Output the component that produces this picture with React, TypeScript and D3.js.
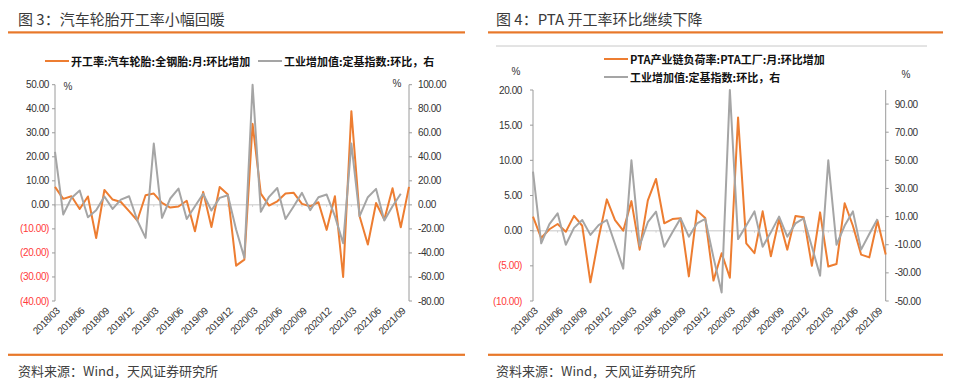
import React, { useEffect, useRef } from "react";
import * as d3 from "d3";

// x tick labels (every 3 months, 2018/03 .. 2021/09)
const tickLabels = [
  "2018/03", "2018/06", "2018/09", "2018/12", "2019/03", "2019/06", "2019/09", "2019/12",
  "2020/03", "2020/06", "2020/09", "2020/12", "2021/03", "2021/06", "2021/09",
];

// 图3: 开工率:汽车轮胎:全钢胎:月:环比增加 (left axis), 2018/03 - 2021/10
const tireRate = [
  7.5, 2.5, 3.6, -1.7, 3.5, -13.8, 6.2, 2.2, 1.2, -2.6, -6.5, 4.0, 4.7, 0.8, -1.1, -0.7,
  1.7, -11.0, 5.4, -9.2, 7.4, 4.3, -25.3, -22.8, 33.7, 4.7, -0.3, 1.5, 4.7, 5.0, 0.4, -0.6,
  1.1, -10.4, 3.6, -30.0, 39.0, -4.7, -16.5, 0.8, -6.1, 6.9, -9.3, 7.5,
];

// 工业增加值:定基指数:环比 (right axis), 2018/03 - 2021/09
const ivaLeft = [
  44, -8, 5.8, 12, -10.3, -4.4, 7, -3.3, 4.4, 7.2, -13, -27.5, 51, -10.8, 5.3, 13.6,
  -11.7, -1.1, 9.2, -4.7, 5.8, 8, -20.5, -44, 100, -5.8, 6.7, 14, -11.7, -1.1, 10, -4.4,
  6.4, 8.6, -9.4, -32, 51, -9.4, 6.4, 13.3, -13, -1.1, 9.2,
];

// 图4: PTA产业链负荷率:PTA工厂:月:环比增加 (left axis)
const ptaRate = [
  2.0, -1.05, 0.2, 0.95, -0.15, 2.1, 0.7, -7.35, -1.05, 4.45, 1.5, 0.0, 4.2, -2.7, 4.3, 7.35,
  1.05, 1.65, 1.75, -6.5, 2.85, 1.8, -7.1, -3.2, -6.7, 16.1, -1.8, -3.2, 2.75, -3.65, 1.65, -2.7,
  2.1, 1.9, -5.0, 2.6, -5.1, -4.75, 3.9, 0.7, -3.4, -3.8, 1.4, -3.4,
];

const ivaRight = [
  42, -9, 4.7, 12.3, -10, 2, 7.6, -3, 4, 7.6, -9.5, -27, 50, -10.7, 6, 13.5,
  -11.4, -1.2, 8.8, -4.3, 5.2, 8.3, -19, -44, 100, -6, 3.6, 13.7, -11.4, -1.2, 10, -4.3,
  5.2, 8.8, -11.4, -32, 50, -10, 3.6, 13.7, -13.5, -2.4, 8.3,
];

const ORANGE = "#ED7D31";
const GRAY = "#A5A5A5";
const BRAND = "#E8782A";
const TICK_FONT = "'Liberation Sans', Arial, sans-serif";
const CJK_FONT = "'Noto Sans CJK SC', 'Noto Sans', sans-serif";

const panels = [
  {
    title: "图 3：汽车轮胎开工率小幅回暖",
    x0: 8, x1: 465, textX: 18,
    plot: { left: 55, right: 409, top: 84.7, bottom: 301 },
    yl: { domain: [-40, 50], ticks: d3.range(-40, 51, 10), gap: 6 },
    yr: { domain: [-80, 100], ticks: d3.range(-80, 101, 20), gap: 9 },
    main: tireRate,
    sub: ivaLeft,
    pctL: [68, 86], pctR: [397, 83],
    legend: [
      { color: ORANGE, x: 45, y: 61, text: "开工率:汽车轮胎:全钢胎:月:环比增加" },
      { color: GRAY, x: 258, y: 61, text: "工业增加值:定基指数:环比，右" },
    ],
    topRule: false,
  },
  {
    title: "图 4：PTA 开工率环比继续下降",
    x0: 488, x1: 943, textX: 496,
    plot: { left: 533, right: 885.7, top: 90, bottom: 301 },
    yl: { domain: [-10, 20], ticks: d3.range(-10, 21, 5), gap: 11 },
    yr: { domain: [-50, 100], ticks: d3.range(-50, 91, 20), gap: 9 },
    main: ptaRate,
    sub: ivaRight,
    pctL: [516, 71], pctR: [906, 74],
    legend: [
      { color: ORANGE, x: 604, y: 59, text: "PTA产业链负荷率:PTA工厂:月:环比增加" },
      { color: GRAY, x: 604, y: 77, text: "工业增加值:定基指数:环比，右" },
    ],
    topRule: true,
  },
];

const App = () => {
  const svgRef = useRef(null);

  useEffect(() => {
    const svg = d3.select(svgRef.current);
    svg.selectAll("*").remove();

    panels.forEach((p) => {
      const g = svg.append("g");
      const n = p.main.length;

      const x = d3.scaleLinear().domain([0, n - 1]).range([p.plot.left, p.plot.right]);
      const yL = d3.scaleLinear().domain(p.yl.domain).range([p.plot.bottom, p.plot.top]);
      const yR = d3.scaleLinear().domain(p.yr.domain).range([p.plot.bottom, p.plot.top]);

      // title + rules
      g.append("text")
        .attr("x", p.textX)
        .attr("y", 18)
        .attr("dominant-baseline", "central")
        .style("font-family", CJK_FONT)
        .style("font-size", "15px")
        .style("fill", "#3a3a3a")
        .text(p.title);

      g.append("rect").attr("x", p.x0).attr("y", 31.3).attr("width", p.x1 - p.x0).attr("height", 2.2).attr("fill", BRAND);
      g.append("rect").attr("x", p.x0).attr("y", 353.7).attr("width", p.x1 - p.x0).attr("height", 2.2).attr("fill", BRAND);

      if (p.topRule) {
        g.append("line")
          .attr("x1", 496).attr("x2", 927).attr("y1", 46).attr("y2", 46)
          .attr("stroke", "#c8c8c8").attr("stroke-width", 1);
      }

      g.append("text")
        .attr("x", p.textX)
        .attr("y", 370)
        .attr("dominant-baseline", "central")
        .style("font-family", CJK_FONT)
        .style("font-size", "13px")
        .style("fill", "#404040")
        .text("资料来源：Wind，天风证券研究所");

      // zero line
      g.append("line")
        .attr("x1", p.plot.left).attr("x2", p.plot.right)
        .attr("y1", yL(0)).attr("y2", yL(0))
        .attr("stroke", "#d9d9d9").attr("stroke-width", 1.5);

      // x ticks on zero line
      tickLabels.forEach((lab, k) => {
        const xi = x(k * 3);
        g.append("line")
          .attr("x1", xi).attr("x2", xi)
          .attr("y1", yL(0)).attr("y2", yL(0) + 2)
          .attr("stroke", "#d0d0d0");
        g.append("text")
          .attr("transform", `translate(${xi + 3},${p.plot.bottom + 8}) rotate(-45)`)
          .attr("text-anchor", "end")
          .attr("dominant-baseline", "central")
          .style("font-family", TICK_FONT)
          .style("font-size", "10px")
          .style("letter-spacing", "-0.4px")
          .style("fill", "#333")
          .text(lab);
      });

      // left axis
      g.append("line")
        .attr("x1", p.plot.left).attr("x2", p.plot.left)
        .attr("y1", p.plot.top).attr("y2", p.plot.bottom)
        .attr("stroke", "#9a9a9a");
      p.yl.ticks.forEach((v) => {
        g.append("line")
          .attr("x1", p.plot.left - 3).attr("x2", p.plot.left)
          .attr("y1", yL(v)).attr("y2", yL(v))
          .attr("stroke", "#9a9a9a");
        g.append("text")
          .attr("x", p.plot.left - p.yl.gap)
          .attr("y", yL(v))
          .attr("text-anchor", "end")
          .attr("dominant-baseline", "central")
          .style("font-family", TICK_FONT)
          .style("font-size", "10px")
          .style("letter-spacing", "-0.4px")
          .style("fill", v < 0 ? "#FF3B3B" : "#333")
          .text(v < 0 ? `(${Math.abs(v).toFixed(2)})` : v.toFixed(2));
      });

      // right axis
      g.append("line")
        .attr("x1", p.plot.right).attr("x2", p.plot.right)
        .attr("y1", yR(p.yr.domain[1])).attr("y2", p.plot.bottom)
        .attr("stroke", "#9a9a9a");
      p.yr.ticks.forEach((v) => {
        g.append("line")
          .attr("x1", p.plot.right).attr("x2", p.plot.right + 3)
          .attr("y1", yR(v)).attr("y2", yR(v))
          .attr("stroke", "#9a9a9a");
        g.append("text")
          .attr("x", p.plot.right + p.yr.gap)
          .attr("y", yR(v))
          .attr("dominant-baseline", "central")
          .style("font-family", TICK_FONT)
          .style("font-size", "10px")
          .style("letter-spacing", "-0.4px")
          .style("fill", "#333")
          .text(v.toFixed(2));
      });

      // % unit labels
      [p.pctL, p.pctR].forEach(([px, py]) => {
        g.append("text")
          .attr("x", px).attr("y", py)
          .attr("text-anchor", "middle")
          .attr("dominant-baseline", "central")
          .style("font-family", TICK_FONT)
          .style("font-size", "10px")
          .style("fill", "#333")
          .text("%");
      });

      // series
      const lineL = d3.line().x((d, i) => x(i)).y((d) => yL(d));
      const lineR = d3.line().x((d, i) => x(i)).y((d) => yR(d));

      g.append("path")
        .datum(p.main)
        .attr("d", lineL)
        .attr("fill", "none")
        .attr("stroke", ORANGE)
        .attr("stroke-width", 2)
        .attr("stroke-linejoin", "round");

      g.append("path")
        .datum(p.sub)
        .attr("d", lineR)
        .attr("fill", "none")
        .attr("stroke", GRAY)
        .attr("stroke-width", 2)
        .attr("stroke-linejoin", "round");

      // legend
      p.legend.forEach((l) => {
        g.append("line")
          .attr("x1", l.x).attr("x2", l.x + 24)
          .attr("y1", l.y).attr("y2", l.y)
          .attr("stroke", l.color).attr("stroke-width", 2);
        g.append("text")
          .attr("x", l.x + 26)
          .attr("y", l.y)
          .attr("dominant-baseline", "central")
          .style("font-family", CJK_FONT)
          .style("font-size", "11px")
          .style("font-weight", "700")
          .style("fill", "#111")
          .text(l.text);
      });
    });
  }, []);

  return (
    <svg
      ref={svgRef}
      width={969}
      height={385}
      style={{ position: "absolute", left: 0, top: 0, background: "#fff" }}
    />
  );
};

export default App;
